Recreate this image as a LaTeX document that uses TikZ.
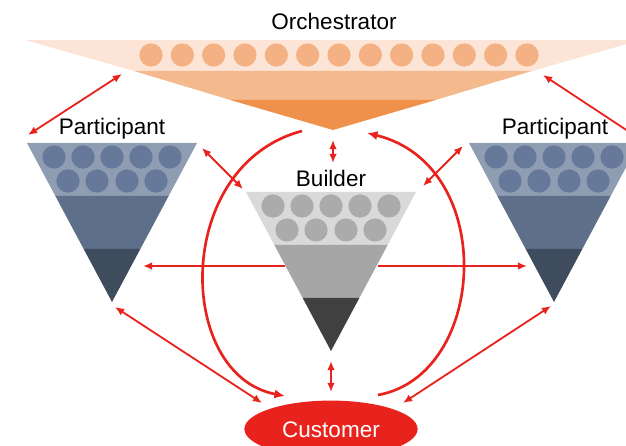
\documentclass[tikz,border=0pt]{standalone}
\usepackage{fontspec}
\setmainfont{Liberation Sans}
\usetikzlibrary{shapes.geometric,arrows.meta}

\definecolor{linkred}{HTML}{E8231E}
\definecolor{orchlight}{HTML}{FCE4D6}
\definecolor{orchmid}{HTML}{F5B98E}
\definecolor{orchdark}{HTML}{F0914B}
\definecolor{orchdot}{HTML}{F4B183}
\definecolor{partlight}{HTML}{8F9DB3}
\definecolor{partdot}{HTML}{67799A}
\definecolor{partmid}{HTML}{5E6F8A}
\definecolor{partdark}{HTML}{3F4C5E}
\definecolor{buildlight}{HTML}{D9D9D9}
\definecolor{builddot}{HTML}{ABABAB}
\definecolor{buildmid}{HTML}{A6A6A6}
\definecolor{builddark}{HTML}{404040}

\def \dotr {0.29cm}

% funnel: apex x, top y, light, dot, mid, dark
\newcommand{\funnel}[6]{%
  \fill[#3] (#1-85,#2) -- (#1+85,#2) -- (#1+56.67,#2+53) -- (#1-56.67,#2+53) -- cycle;
  \fill[#5] (#1-56.67,#2+53) -- (#1+56.67,#2+53) -- (#1+28.33,#2+106) -- (#1-28.33,#2+106) -- cycle;
  \fill[#6] (#1-28.33,#2+106) -- (#1+28.33,#2+106) -- (#1,#2+159) -- cycle;
  \foreach \dx in {-58,-29,0,29,58} \fill[#4] (#1+\dx,#2+14) circle (\dotr);
  \foreach \dx in {-44,-15,15,44} \fill[#4] (#1+\dx,#2+38) circle (\dotr);
}

\tikzset{
  tag/.style={font=\fontsize{16}{19}\selectfont, inner sep=0pt},
  link/.style={draw=linkred, line width=1.3pt, >={Latex[length=6.5pt,width=5.5pt]}},
  curvelink/.style={link, line width=1.9pt, >={Latex[length=7.5pt,width=6.5pt]}}
}

\begin{document}
\begin{tikzpicture}[x=0.025cm, y=-0.025cm]
\useasboundingbox (0,0) rectangle (626,446);
\clip (0,0) rectangle (626,446);

% orchestrator
\fill[orchlight] (25,40) -- (641,40) -- (531.9,71) -- (134.1,71) -- cycle;
\fill[orchmid] (134.1,71) -- (531.9,71) -- (435.7,100) -- (230.3,100) -- cycle;
\fill[orchdark] (230.3,100) -- (435.7,100) -- (333,130) -- cycle;
\foreach \i in {0,...,12} \fill[orchdot] (151+31.33*\i,55) circle (\dotr);
\node[tag] (orch) at (334,21) {Orchestrator};

% participants and builder
\funnel{112}{143}{partlight}{partdot}{partmid}{partdark}
\node[tag] (partl) at (112,129) {Participant};
\funnel{554}{143}{partlight}{partdot}{partmid}{partdark}
\node[tag] (partr) at (555,129) {Participant};
\funnel{331}{192}{buildlight}{builddot}{buildmid}{builddark}
\node[tag] (build) at (331,178) {Builder};

% customer
\node[ellipse, fill=linkred, minimum width=4.33cm, minimum height=1.42cm, inner sep=0pt] (cust) at (331,429) {};
\node[tag, text=white] (custtext) at (331,430) {Customer};

% link ends
\coordinate (o-l) at (122,74);
\coordinate (o-r) at (543,75);
\coordinate (o-a1) at (302,131);
\coordinate (o-a2) at (367,133);
\coordinate (o-tip) at (333,140);
\coordinate (edge-r) at (640,139);
\coordinate (pl-tl) at (28,135);
\coordinate (pl-tr) at (202,148);
\coordinate (pl-mid) at (143,266);
\coordinate (pl-tip) at (115,307);
\coordinate (b-top) at (333,163);
\coordinate (b-tl) at (243,189);
\coordinate (b-tr) at (423,186);
\coordinate (b-ml) at (285,266);
\coordinate (b-mr) at (378,266);
\coordinate (b-tip) at (331,361);
\coordinate (pr-tl) at (463,146);
\coordinate (pr-mid) at (527,266);
\coordinate (pr-tip) at (551,306);
\coordinate (c-l) at (262,403);
\coordinate (c-al) at (285,396);
\coordinate (c-top) at (331,392);
\coordinate (c-ar) at (378,395);
\coordinate (c-r) at (403,403);

\draw[link, <->] (pl-tl) -- (o-l);
\draw[link, ->] (edge-r) -- (o-r);
\draw[link, <->] (o-tip) -- (b-top);
\draw[link, <->] (pl-tr) -- (b-tl);
\draw[link, <->] (b-tr) -- (pr-tl);
\draw[link, ->] (b-ml) -- (pl-mid);
\draw[link, ->] (b-mr) -- (pr-mid);
\draw[link, <->] (pl-tip) -- (c-l);
\draw[link, <->] (c-r) -- (pr-tip);
\draw[link, <->] (b-tip) -- (c-top);
\draw[curvelink, ->] (o-a1) .. controls (173,165) and (175,375) .. (c-al); % down
\draw[curvelink, ->] (c-ar) .. controls (488,375) and (498,165) .. (o-a2); % up
\end{tikzpicture}
\end{document}
